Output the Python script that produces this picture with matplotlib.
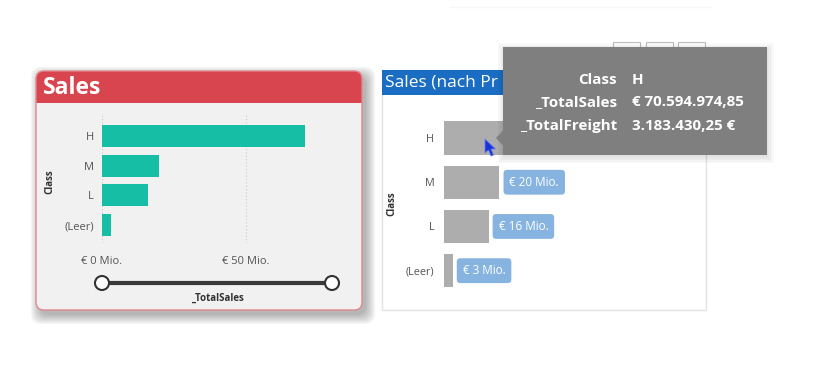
import matplotlib
matplotlib.use("Agg")
import matplotlib.pyplot as plt
from matplotlib.patches import FancyBboxPatch, Rectangle, Polygon, Circle

# ---- data ----
classes = ["H", "M", "L", "(Leer)"]
sales_mio = [70.59, 19.8, 15.9, 3.1]
x_ticks = [0, 50]
x_tick_labels = ["€ 0 Mio.", "€ 50 Mio."]
data_labels = ["€ 71 Mio.", "€ 20 Mio.", "€ 16 Mio.", "€ 3 Mio."]
tooltip_fields = ["Class", "_TotalSales", "_TotalFreight"]
tooltip_values = ["H", "€ 70.594.974,85", "3.183.430,25 €"]

plt.rcParams["font.family"] = ["Open Sans", "DejaVu Sans"]

W, H = 820, 390
fig = plt.figure(figsize=(W / 100, H / 100), dpi=100)
fig.patch.set_facecolor("white")


def px_axes(x0, y0, x1, y1, z):
    return fig.add_axes([x0 / W, 1 - y1 / H, (x1 - x0) / W, (y1 - y0) / H], zorder=z)


# background layer (pixel coordinates)
bg = px_axes(0, 0, W, H, 0)
bg.set_xlim(0, W)
bg.set_ylim(H, 0)
bg.axis("off")

# faint line at top
bg.plot([450, 710], [7, 7], color="#F7F7F7", lw=1)

# ---- left card ----
for i in range(8):
    g = i * 1.3
    bg.add_patch(FancyBboxPatch((36 + 4 - g, 71 + 5 - g), 326 + 2 * g, 239 + 2 * g,
                                boxstyle="round,pad=0,rounding_size=10",
                                fc="#000000", ec="none", alpha=0.04, zorder=0))
bg.add_patch(FancyBboxPatch((36, 71), 326, 239, boxstyle="round,pad=0,rounding_size=8",
                            fc="#F1F1F1", ec="none", zorder=1))
hdr = FancyBboxPatch((36, 71), 326, 60, boxstyle="round,pad=0,rounding_size=8",
                     fc="#D8454F", ec="none", zorder=2)
bg.add_patch(hdr)
clip = Rectangle((30, 60), 340, 43, transform=bg.transData)
hdr.set_clip_path(clip)
bg.add_patch(FancyBboxPatch((36, 71), 326, 239, boxstyle="round,pad=0,rounding_size=8",
                            fc="none", ec="#E2878D", lw=1, zorder=3))
bg.text(43, 88, "Sales", color="white", fontsize=16.5, fontweight="bold",
        va="center", ha="left", zorder=4)

# slider
bg.plot([102, 332], [283, 283], color="#3A3A3A", lw=3, zorder=4, solid_capstyle="butt")
for cx in (102, 332):
    bg.add_patch(Circle((cx, 283), 7, fc="white", ec="#333333", lw=1.5, zorder=5))

# ---- right card ----
bg.add_patch(Rectangle((382, 71), 324, 239, fc="white", ec="#E3E3E3", lw=1, zorder=1))
bg.add_patch(Rectangle((382, 70), 240, 25, fc="#1A6DC2", ec="none", zorder=2))
ttl = bg.text(385, 82.5, "Sales (nach Pr", color="white", fontsize=12.5,
              va="center", ha="left", zorder=3)
ttl.set_clip_path(Rectangle((380, 60), 122, 40, transform=bg.transData))
for bx in (613, 646, 678):
    bg.add_patch(Rectangle((bx, 42), 27, 10, fc="white", ec="#BDBDBD", lw=0.8, zorder=3))

# ---- left chart ----
ax1 = px_axes(102, 115, 340, 243, 1)
ax1.patch.set_alpha(0)
ypos = list(range(len(classes)))
ax1.barh(ypos, sales_mio, height=0.74, color="#16BEA6", zorder=2)
ax1.set_xlim(0, 238 / 2.88)
ax1.set_ylim(3.6, -0.7)
ax1.set_yticks(ypos)
ax1.set_yticklabels(classes)
ax1.set_xticks(x_ticks)
ax1.set_xticklabels(x_tick_labels)
ax1.tick_params(axis="both", length=0, labelsize=8, labelcolor="#555555")
ax1.tick_params(axis="y", pad=6)
ax1.tick_params(axis="x", pad=9)
ax1.grid(axis="x", color="#C8C8C8", linestyle=(0, (1, 2)), lw=0.8, zorder=1)
for s in ax1.spines.values():
    s.set_visible(False)
ax1.set_ylabel("Class", fontsize=7, fontweight="bold", color="#333333")
ax1.yaxis.set_label_coords((55 - 102) / 238, 1 - (182 - 115) / 128)
ax1.set_xlabel("_TotalSales", fontsize=7, fontweight="bold", color="#333333")
ax1.xaxis.set_label_coords((217 - 102) / 238, -(293 - 243) / 128)

# ---- right chart ----
ax2 = px_axes(444, 109.3, 700, 297.2, 1)
ax2.patch.set_alpha(0)
ax2.barh(ypos, sales_mio, height=0.75, color="#ADADAD", zorder=2)
ax2.set_xlim(0, 256 / 2.8)
ax2.set_ylim(3.6, -0.65)
ax2.set_yticks(ypos)
ax2.set_yticklabels(classes)
ax2.set_xticks([])
ax2.tick_params(axis="y", length=0, labelsize=7.8, labelcolor="#555555", pad=7)
for s in ax2.spines.values():
    s.set_visible(False)
ax2.set_ylabel("Class", fontsize=7, fontweight="bold", color="#333333")
ax2.yaxis.set_label_coords((397 - 444) / 256, 1 - (204 - 109.3) / 187.9)
for y, v, lab in zip(ypos, sales_mio, data_labels):
    ax2.annotate(lab, (v, y), xytext=(10, 0), textcoords="offset pixels",
                 ha="left", va="center", fontsize=8.5, color="white",
                 bbox=dict(boxstyle="round,pad=0.5,rounding_size=0.3",
                           fc="#86B3E0", ec="none"), zorder=3)

# ---- top overlay: tooltip + cursor ----
top = px_axes(0, 0, W, H, 2)
top.set_xlim(0, W)
top.set_ylim(H, 0)
top.axis("off")
top.patch.set_alpha(0)
for i in range(5):
    g = i * 1.5
    top.add_patch(Rectangle((503 + 1 - g, 47 + 2 - g), 264 + 2 * g, 108 + 2 * g,
                            fc="black", ec="none", alpha=0.025))
top.add_patch(Rectangle((503, 47), 264, 108, fc="#7F7F7F", ec="none"))
top.add_patch(Polygon([(503.5, 130), (496, 138), (503.5, 146)], closed=True,
                      fc="#7F7F7F", ec="none"))
for yy, f, v in zip([80, 102, 126], tooltip_fields, tooltip_values):
    top.text(617, yy, f, ha="right", va="center", color="white", fontsize=10.9,
             fontweight="bold")
    top.text(632, yy, v, ha="left", va="center", color="white", fontsize=10.9,
             fontweight="bold")

cursor = [(485, 139), (485, 153), (488.5, 150), (491, 156), (493.5, 155),
          (491, 149), (495.5, 149)]
top.add_patch(Polygon(cursor, closed=True, fc="#1832D6", ec="#6A7CE8", lw=0.6))

fig.savefig("out.png", dpi=100, facecolor="white")
